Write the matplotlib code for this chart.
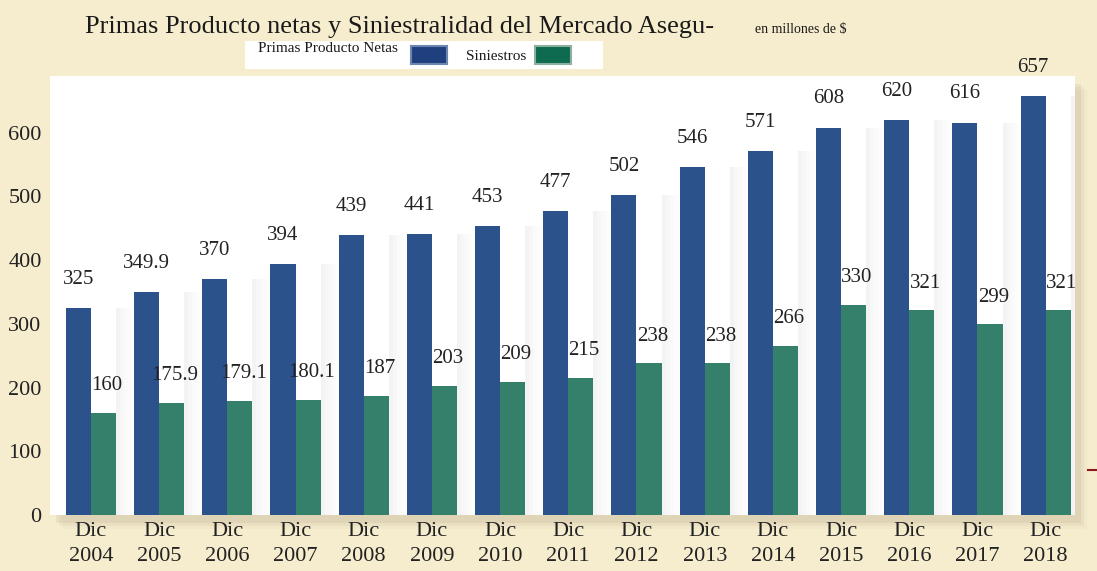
import matplotlib.pyplot as plt
from matplotlib.patches import Rectangle
import numpy as np

years = ['2004', '2005', '2006', '2007', '2008', '2009', '2010', '2011',
         '2012', '2013', '2014', '2015', '2016', '2017', '2018']
primas = [325, 349.9, 370, 394, 439, 441, 453, 477, 502, 546, 571, 608, 620, 616, 657]
siniestros = [160, 175.9, 179.1, 180.1, 187, 203, 209, 215, 238, 238, 266, 330, 321, 299, 321]
primas_txt = ['325', '349.9', '370', '394', '439', '441', '453', '477', '502',
              '546', '571', '608', '620', '616', '657']
siniestros_txt = ['160', '175.9', '179.1', '180.1', '187', '203', '209', '215', '238',
                  '238', '266', '330', '321', '299', '321']
yticks = [0, 100, 200, 300, 400, 500, 600]

BEIGE = '#F6EDCF'
BLUE = '#2C528B'
GREEN = '#35806A'

plt.rcParams['font.family'] = ['Liberation Serif', 'DejaVu Serif']

W, H = 1097, 571
fig = plt.figure(figsize=(W / 100, H / 100), dpi=100, facecolor=BEIGE)


def fx(px):
    return px / W


def fy(py):
    return 1 - py / H


# shadow behind white plot area
for i, a in enumerate([0.10, 0.07, 0.04]):
    fig.patches.append(Rectangle((fx(56 + 3 * i), fy(523 + 3 * i)), fx(1025), fy(76) - fy(515),
                                 transform=fig.transFigure, facecolor='#8a7d55', alpha=a,
                                 edgecolor='none', zorder=0))

ax = fig.add_axes([fx(50), fy(515), fx(1025), fy(76) - fy(515)])
ax.set_zorder(3)
ax.set_facecolor('white')
for s in ax.spines.values():
    s.set_visible(False)

x = np.arange(len(years))
bw = 0.367

# soft shadow to the right of each bar pair
for k, a in enumerate([0.10, 0.07, 0.045, 0.025]):
    ax.bar(x + bw + k * 0.06, primas, width=0.06, align='edge',
           color='#909090', alpha=a, zorder=1, linewidth=0)

ax.bar(x - bw / 2, primas, width=bw, color=BLUE, zorder=3, linewidth=0)
ax.bar(x + bw / 2, siniestros, width=bw, color=GREEN, zorder=3, linewidth=0)

for i in range(len(years)):
    ax.text(x[i] - bw / 2, primas[i] + 30, primas_txt[i], ha='center', va='bottom',
            fontsize=15, color='#222222', zorder=4)
    ax.text(x[i] + bw / 2 + 0.05, siniestros[i] + 28, siniestros_txt[i], ha='center',
            va='bottom', fontsize=15, color='#222222', zorder=4)

ax.set_xlim(-0.6, 14.43)
ax.set_ylim(0, 689)
ax.set_yticks(yticks)
ax.set_yticklabels([str(v) for v in yticks], fontsize=16, color='#222222')
ax.tick_params(axis='y', length=0, pad=6)
ax.set_xticks(x)
ax.set_xticklabels(['Dic\n' + y for y in years], fontsize=16, color='#222222',
                   linespacing=1.4)
ax.tick_params(axis='x', length=0, pad=5)

# title and legend
fig.text(fx(85), fy(27), 'Primas Producto netas y Siniestralidad del Mercado Asegu-',
         fontsize=19, va='center', ha='left', color='#1a1a1a')
fig.text(fx(755), fy(29), 'en millones de $', fontsize=10, va='center', ha='left',
         color='#1a1a1a')

fig.patches.append(Rectangle((fx(245), fy(69)), fx(358), fy(41) - fy(69),
                             transform=fig.transFigure, facecolor='white',
                             edgecolor='none', zorder=1))
fig.text(fx(258), fy(49), 'Primas Producto Netas', fontsize=11, va='center', ha='left',
         color='#1a1a1a')
fig.patches.append(Rectangle((fx(411), fy(64)), fx(36), fy(46) - fy(64),
                             transform=fig.transFigure, facecolor='#1F3F7E',
                             edgecolor='#6d86b0', linewidth=1.5, zorder=2))
fig.text(fx(466), fy(56), 'Siniestros', fontsize=11, va='center', ha='left',
         color='#1a1a1a')
fig.patches.append(Rectangle((fx(535), fy(64)), fx(36), fy(46) - fy(64),
                             transform=fig.transFigure, facecolor='#0E6B50',
                             edgecolor='#8cb0a0', linewidth=1.5, zorder=2))

fig.lines.append(plt.Line2D([fx(1088), fx(1097)], [fy(470), fy(470)],
                            transform=fig.transFigure, color='#8b1a1a', linewidth=1.5))

fig.savefig('out.png', dpi=100, facecolor=BEIGE)
